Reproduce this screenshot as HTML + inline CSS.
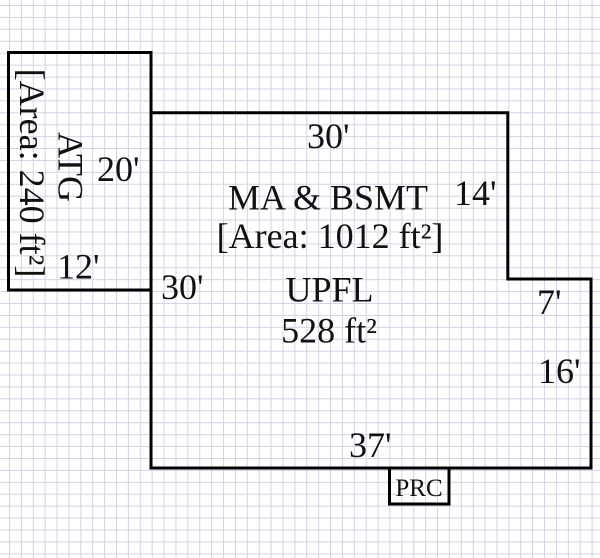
<!DOCTYPE html>
<html><head><meta charset="utf-8"><style>
html,body{margin:0;padding:0;background:#fff;}
svg{display:block;}
text{font-family:"Liberation Serif","Times New Roman",serif;fill:#111;}
</style></head><body>
<svg width="600" height="558" viewBox="0 0 600 558" xmlns="http://www.w3.org/2000/svg">
<defs>
<pattern id="g" patternUnits="userSpaceOnUse" x="9" y="5" width="11.89" height="11.92">
<path d="M0.5,0 V11.92 M0,0.5 H11.89" stroke="#d2d3e4" stroke-width="1" fill="none"/>
</pattern>
</defs>
<rect x="0" y="0" width="600" height="558" fill="#fff"/>
<rect x="0" y="0" width="600" height="558" fill="url(#g)"/>
<g fill="none" stroke="#000" stroke-width="3" stroke-linejoin="miter">
<path d="M8.5,52.5 H151 V290 H8.5 Z"/>
<path d="M151,112.8 H507.8 V279 H591 V468 H151 Z"/>
<path d="M389.5,468 V504 H449 V468"/>
</g>
<g font-size="36">
<text x="307" y="148">30'</text>
<text x="328" y="209.5" text-anchor="middle">MA &amp; BSMT</text>
<text x="330" y="248" text-anchor="middle">[Area: 1012 ft²]</text>
<text x="329.5" y="301.5" text-anchor="middle">UPFL</text>
<text x="329" y="342.5" text-anchor="middle">528 ft²</text>
<text x="161" y="299">30'</text>
<text x="97" y="181">20'</text>
<text x="57" y="278.5">12'</text>
<text x="454" y="205">14'</text>
<text x="537" y="314">7'</text>
<text x="538" y="383">16'</text>
<text x="349" y="457">37'</text>
<text transform="translate(58.3,167) rotate(90)" text-anchor="middle">ATG</text>
<text transform="translate(20,173) rotate(90)" text-anchor="middle">[Area: 240 ft²]</text>
</g>
<text x="419" y="496" font-size="25" text-anchor="middle">PRC</text>
</svg>
</body></html>
